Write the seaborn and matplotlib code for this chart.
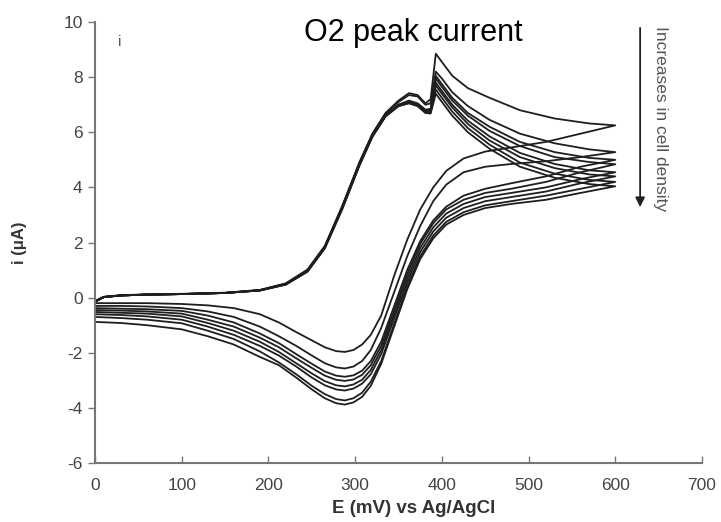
# Cyclic voltammograms: O2 peak current vs cell density

import pandas as pd
import seaborn as sns
import matplotlib
matplotlib.use("Agg")
import matplotlib.pyplot as plt

# potentials (mV) for the forward and reverse scans
fwd_E = [0, 10, 30, 60, 100, 150, 190, 220, 245, 265, 285, 305, 320, 335,
         350, 362, 372, 381, 387, 393, 400, 412, 430, 455, 490, 530, 570, 600]
rev_E = [600, 560, 520, 480, 450, 425, 405, 390, 375, 360, 345, 330, 318, 308,
         298, 288, 278, 265, 250, 232, 212, 190, 160, 130, 100, 60, 30, 0]

# currents (uA), one loop per cell density, lowest density first
fwd_a = [-0.15, 0.02, 0.08, 0.11, 0.13, 0.17, 0.27, 0.5, 1.0, 1.85, 3.3, 4.9, 5.95, 6.7,
         7.15, 7.42, 7.35, 7.05, 7.2, 8.85, 8.55, 8.05, 7.6, 7.25, 6.8, 6.5, 6.32, 6.25]
rev_a = [6.25, 5.95, 5.65, 5.45, 5.3, 5.05, 4.6, 4.0, 3.2, 2.1, 0.8, -0.65, -1.35, -1.7,
         -1.9, -1.97, -1.94, -1.8, -1.55, -1.25, -0.9, -0.6, -0.38, -0.28, -0.23, -0.2, -0.2, -0.2]

fwd_b = [-0.12, 0.03, 0.09, 0.12, 0.14, 0.18, 0.28, 0.52, 1.02, 1.88, 3.32, 4.92, 5.95, 6.68,
         7.1, 7.35, 7.3, 7.0, 7.05, 8.2, 7.95, 7.45, 6.95, 6.45, 5.95, 5.6, 5.38, 5.28]
rev_b = [5.28, 5.1, 4.95, 4.85, 4.75, 4.55, 4.1, 3.5, 2.6, 1.5, 0.2, -1.1, -1.9, -2.3,
         -2.5, -2.57, -2.53, -2.38, -2.1, -1.75, -1.4, -1.05, -0.7, -0.5, -0.38, -0.32, -0.3, -0.3]

fwd_c = [-0.15, 0.02, 0.08, 0.11, 0.13, 0.17, 0.27, 0.5, 0.99, 1.84, 3.28, 4.87, 5.9, 6.62,
         7.0, 7.15, 7.05, 6.82, 6.85, 8.05, 7.75, 7.25, 6.7, 6.2, 5.65, 5.28, 5.07, 5.0]
rev_c = [5.0, 4.75, 4.4, 4.15, 3.95, 3.7, 3.3, 2.8, 2.05, 1.0, -0.3, -1.6, -2.3, -2.65,
         -2.82, -2.87, -2.83, -2.68, -2.4, -2.05, -1.65, -1.3, -0.9, -0.65, -0.48, -0.42, -0.4, -0.38]

fwd_d = [-0.14, 0.02, 0.08, 0.11, 0.13, 0.17, 0.26, 0.49, 0.98, 1.83, 3.27, 4.86, 5.9, 6.62,
         7.0, 7.12, 7.02, 6.8, 6.82, 7.95, 7.65, 7.15, 6.6, 6.05, 5.5, 5.1, 4.92, 4.84]
rev_d = [4.84, 4.55, 4.2, 3.95, 3.8, 3.55, 3.2, 2.7, 1.95, 0.85, -0.45, -1.75, -2.45, -2.8,
         -2.97, -3.02, -2.98, -2.83, -2.55, -2.2, -1.8, -1.45, -1.05, -0.8, -0.58, -0.5, -0.47, -0.45]

fwd_e = [-0.15, 0.02, 0.08, 0.11, 0.13, 0.17, 0.27, 0.49, 0.97, 1.82, 3.25, 4.84, 5.88, 6.6,
         6.98, 7.1, 7.0, 6.77, 6.78, 7.8, 7.5, 7.0, 6.42, 5.85, 5.25, 4.85, 4.62, 4.55]
rev_e = [4.55, 4.3, 4.0, 3.8, 3.65, 3.4, 3.05, 2.55, 1.8, 0.7, -0.6, -1.9, -2.62, -2.98,
         -3.15, -3.22, -3.18, -3.03, -2.75, -2.38, -1.97, -1.6, -1.2, -0.92, -0.68, -0.58, -0.55, -0.52]

fwd_f = [-0.13, 0.03, 0.08, 0.11, 0.13, 0.17, 0.26, 0.48, 0.96, 1.81, 3.24, 4.83, 5.87, 6.6,
         6.97, 7.08, 6.98, 6.75, 6.75, 7.7, 7.4, 6.9, 6.3, 5.7, 5.1, 4.7, 4.47, 4.4]
rev_f = [4.4, 4.15, 3.85, 3.65, 3.5, 3.25, 2.9, 2.4, 1.65, 0.55, -0.75, -2.05, -2.78, -3.12,
         -3.3, -3.37, -3.33, -3.18, -2.9, -2.5, -2.1, -1.75, -1.35, -1.05, -0.8, -0.68, -0.63, -0.6]

fwd_g = [-0.15, 0.02, 0.08, 0.11, 0.13, 0.17, 0.26, 0.48, 0.95, 1.8, 3.22, 4.81, 5.85, 6.58,
         6.95, 7.06, 6.96, 6.72, 6.72, 7.55, 7.25, 6.75, 6.15, 5.55, 4.9, 4.5, 4.27, 4.2]
rev_g = [4.2, 3.95, 3.7, 3.5, 3.35, 3.1, 2.75, 2.25, 1.5, 0.4, -0.95, -2.3, -3.05, -3.45,
         -3.65, -3.73, -3.68, -3.5, -3.2, -2.78, -2.35, -1.95, -1.5, -1.2, -0.93, -0.8, -0.74, -0.7]

fwd_h = [-0.14, 0.02, 0.08, 0.11, 0.13, 0.17, 0.26, 0.47, 0.94, 1.79, 3.2, 4.8, 5.84, 6.57,
         6.95, 7.05, 6.95, 6.7, 6.68, 7.4, 7.1, 6.6, 6.0, 5.4, 4.75, 4.35, 4.12, 4.04]
rev_h = [4.04, 3.8, 3.55, 3.4, 3.25, 3.0, 2.65, 2.15, 1.4, 0.3, -1.05, -2.4, -3.2, -3.6,
         -3.8, -3.88, -3.83, -3.65, -3.33, -2.9, -2.45, -2.15, -1.7, -1.4, -1.15, -1.0, -0.92, -0.88]

loops = [(fwd_a, rev_a), (fwd_b, rev_b), (fwd_c, rev_c), (fwd_d, rev_d),
         (fwd_e, rev_e), (fwd_f, rev_f), (fwd_g, rev_g), (fwd_h, rev_h)]

sns.set_style("white")
plt.rcParams['font.family'] = ['Liberation Sans', 'DejaVu Sans']
plt.rcParams['axes.unicode_minus'] = False

fig = plt.figure(figsize=(7.21, 5.22), dpi=100)
ax = fig.add_axes([0.1318, 0.113, 0.8419, 0.8448])

for fwd, rev in loops:
    df = pd.DataFrame({"E": fwd_E + rev_E, "i": fwd + rev})
    sns.lineplot(data=df, x="E", y="i", sort=False, estimator=None,
                 color="#1e1e1e", linewidth=1.3, ax=ax)

ax.set_xlim(0, 700)
ax.set_ylim(-6, 10)
ax.set_xticks(range(0, 701, 100))
ax.set_yticks(range(-6, 11, 2))

for side in ["top", "right"]:
    ax.spines[side].set_visible(False)
for side in ["left", "bottom"]:
    ax.spines[side].set_color("#777777")
    ax.spines[side].set_linewidth(1.5)

ax.tick_params(axis="y", direction="out", length=5, width=1, color="#777777",
               labelsize=12.5, labelcolor="#444444", pad=4, left=True)
ax.tick_params(axis="x", direction="in", length=5, width=1, color="#777777",
               labelsize=12.5, labelcolor="#444444", pad=11, bottom=True)

ax.set_xlabel("E (mV) vs Ag/AgCl", fontsize=13.5, fontweight="bold", color="#333333")
ax.xaxis.set_label_coords(0.525, -0.085)
ax.set_ylabel("i (\u03bcA)", fontsize=12, fontweight="bold", color="#333333", labelpad=26)

ax.text(0.524, 0.975, "O2 peak current", transform=ax.transAxes, ha="center", va="center",
        fontsize=22, color="black")
ax.text(0.04, 0.955, "i", transform=ax.transAxes, ha="center", va="center",
        fontsize=11, color="#555555")

ax.annotate("", xy=(0.898, 0.574), xytext=(0.898, 0.993), xycoords="axes fraction",
            arrowprops=dict(arrowstyle="-|>", color="#222222", lw=1.3, mutation_scale=14))
ax.text(0.931, 0.78, "Increases in cell density", transform=ax.transAxes, rotation=-90,
        ha="center", va="center", fontsize=12.5, color="#555555")

fig.savefig("out.png", dpi=100)
